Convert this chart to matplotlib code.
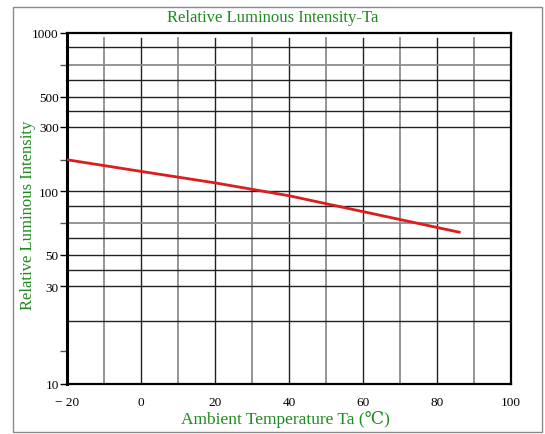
import numpy as np
import matplotlib
matplotlib.use('Agg')
from matplotlib import pyplot as plt
from matplotlib.patches import Rectangle

# curve
temps = [-20, 0, 20, 40, 60, 86]
intensity = [171, 140, 115, 95, 80, 64]

x_ticks = [-20, 0, 20, 40, 60, 80, 100]
x_labels = ['\u2212 20', '0', '20', '40', '60', '80', '100']
y_ticks = [10, 30, 50, 100, 300, 500, 1000]
y_labels = ['10', '30', '50', '100', '300', '500', '1000']

# horizontal grid values (the chart's own irregular grid)
grid_black = [857, 601, 500, 391, 300, 100, 85, 60, 50, 39, 30, 20.3]
grid_grey = [709, 70.7]
extra_ticks = [709, 171, 70.7, 14.4]

# the printed axis is not a true log axis; piecewise log mapping
anchor_log = np.log10(y_ticks)
anchor_pos = np.array([0, 98, 129, 193, 257, 287, 351], dtype=float)


def fwd(v):
    v = np.clip(np.asarray(v, dtype=float), 1e-3, None)
    return np.interp(np.log10(v), anchor_log, anchor_pos,
                     left=anchor_pos[0], right=anchor_pos[-1])


def inv(p):
    return 10 ** np.interp(p, anchor_pos, anchor_log)


plt.rcParams['font.family'] = ['Liberation Serif', 'DejaVu Serif']
green = '#1f8a1f'

fig = plt.figure(figsize=(5.45, 4.35), dpi=100)
ax = fig.add_axes([67 / 545, 1 - 385 / 435, 444 / 545, 351 / 435])
ax.set_yscale('function', functions=(fwd, inv))
ax.set_xlim(-20, 100)
ax.set_ylim(10, 1000)

for x in range(-10, 100, 10):
    ax.axvline(x, ymax=0.986, color='#222222' if x % 20 == 0 else '#8c8c8c',
               lw=1.0 if x % 20 == 0 else 1.3, zorder=1)
for y in grid_black:
    ax.axhline(y, color='#222222', lw=1.0, zorder=1)
for y in grid_grey:
    ax.axhline(y, color='#8c8c8c', lw=1.3, zorder=1)

ax.plot(temps, intensity, color='#d81e1e', lw=2.0, zorder=3)

ax.set_xticks(x_ticks)
ax.set_xticklabels(x_labels)
ax.set_yticks(y_ticks)
ax.set_yticklabels(y_labels)
ax.set_yticks(extra_ticks, minor=True)
ax.yaxis.set_minor_formatter(plt.NullFormatter())
ax.xaxis.set_minor_locator(plt.NullLocator())
ax.tick_params(axis='x', length=0, pad=9, labelsize=9.5)
ax.tick_params(axis='y', which='major', length=5, width=1, pad=1, labelsize=9.5)
ax.tick_params(axis='y', which='minor', length=5, width=1, color='#555555')

for side in ['top', 'right', 'bottom']:
    ax.spines[side].set_linewidth(1.6)
ax.spines['left'].set_linewidth(2.2)

fig.text(0.5, 1 - 18 / 435, 'Relative Luminous Intensity-Ta', color=green,
         fontsize=12, ha='center', va='center')
fig.text(285 / 545, 1 - 420 / 435, 'Ambient Temperature Ta (\u2103)', color=green,
         fontsize=12.5, ha='center', va='center')
fig.text(28 / 545, 1 - 215 / 435, 'Relative Luminous Intensity', color=green,
         fontsize=12, ha='center', va='center', rotation=90)

fig.patches.append(Rectangle((13 / 545, 1 - 433 / 435), 529 / 545, 425 / 435,
                             transform=fig.transFigure, fill=False,
                             edgecolor='#8a8a8a', lw=1.0))

plt.savefig('out.png', dpi=100)
